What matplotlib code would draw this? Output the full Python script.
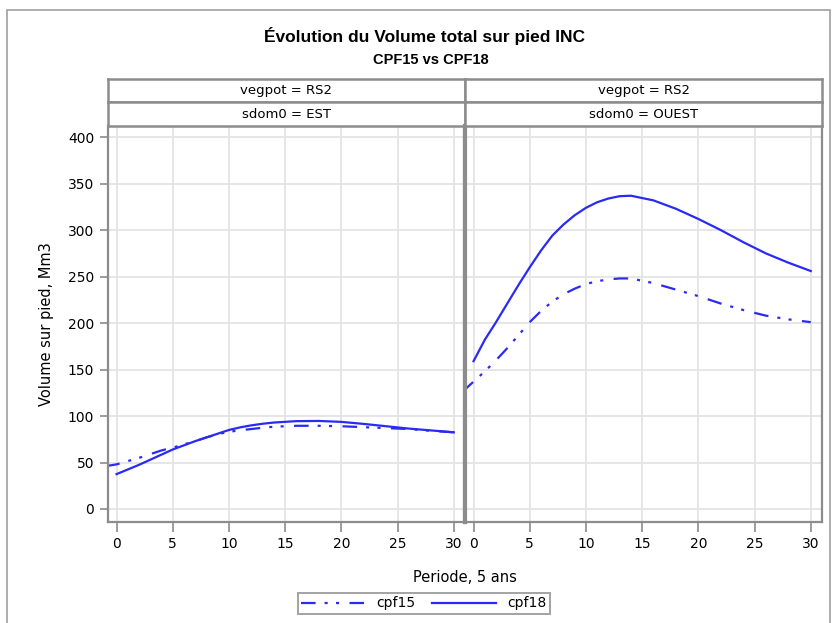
import matplotlib
matplotlib.use('Agg')
from matplotlib import pyplot as plt
from matplotlib.patches import Rectangle

# periods (5 years each)
x18 = [0, 1, 2, 3, 4, 5, 6, 7, 8, 9, 10, 11, 12, 13, 14, 16, 18, 20, 22, 24, 26, 28, 30]
x15 = [-1, 0, 1, 2, 3, 4, 5, 6, 7, 8, 9, 10, 11, 12, 13, 14, 16, 18, 20, 22, 24, 26, 28, 30]

# sdom0 = EST
est_cpf18 = [37.5, 42.5, 47.5, 53, 58.5, 64, 68.5, 73, 77, 81, 85, 87.8,
             90, 91.7, 93, 94.5, 94.7, 93.7, 91.5, 89, 86.5, 84.5, 82.5]
est_cpf15 = [46, 48, 51.5, 55, 59, 63, 66, 69.5, 73, 77, 80.5, 83, 84.7,
             86, 87.4, 88.5, 89.5, 89.5, 89, 88, 87, 86, 84, 82.5]

# sdom0 = OUEST
ouest_cpf18 = [159, 182, 201, 221, 241, 260, 278, 294, 306, 316, 324, 330,
               334, 336.5, 337, 332, 323, 312, 300, 287, 275, 265, 256]
ouest_cpf15 = [126, 137, 148, 160, 173, 187, 201, 213, 223, 231, 237, 242,
               245, 247, 248, 248, 243, 236, 229, 221, 214, 208, 204, 201]

panels = ['EST', 'OUEST']
xticks = [0, 5, 10, 15, 20, 25, 30]
yticks = [0, 50, 100, 150, 200, 250, 300, 350, 400]

blue = '#2a2af5'
grey = '#8c8c8c'
dash15 = (0, (10.5, 6.5, 2.2, 6.0, 2.2, 7.5))

W, H = 832, 623
fig = plt.figure(figsize=(W / 100, H / 100), dpi=100)
plt.rcParams['lines.scale_dashes'] = False

def fx(px):
    return px / W

def fy(py):
    return 1 - py / H

# outer frame
fig.patches.append(Rectangle((fx(7), fy(640)), fx(823), (640 - 10) / H,
                             transform=fig.transFigure, fill=False,
                             edgecolor='#a0a0a0', lw=1.2, clip_on=False))

fig.text(fx(424), fy(36), 'Évolution du Volume total sur pied INC',
         ha='center', va='center', fontsize=12.5, fontweight='bold',
         family='Liberation Sans')
fig.text(fx(431), fy(60), 'CPF15 vs CPF18', ha='center', va='center',
         fontsize=10.5, fontweight='bold', family='Liberation Sans')

lefts = [108, 465]
pw = 357
top, bottom = 126, 522
data = {'EST': (est_cpf15, est_cpf18), 'OUEST': (ouest_cpf15, ouest_cpf18)}

axes = []
for i, dom in enumerate(panels):
    l = lefts[i]
    ax = fig.add_axes([fx(l), fy(bottom), pw / W, (bottom - top) / H])
    axes.append(ax)
    c15, c18 = data[dom]
    ax.plot(x15, c15, color=blue, lw=1.6, ls=dash15, label='cpf15')
    ax.plot(x18, c18, color=blue, lw=1.6, label='cpf18')
    ax.set_xlim(-0.76, 31.0)
    ax.set_ylim(-14, 412)
    ax.set_xticks(xticks)
    ax.set_yticks(yticks)
    ax.grid(True, color='#e4e4e4', lw=1.3)
    ax.set_axisbelow(True)
    for s in ax.spines.values():
        s.set_color(grey)
        s.set_linewidth(1.6)
    ax.spines['top'].set_visible(False)
    ax.tick_params(axis='x', length=7, width=1.2, color=grey, labelsize=10,
                   pad=4)
    ax.tick_params(axis='y', length=6, width=1.2, color=grey, labelsize=10,
                   pad=4)
    if i == 0:
        ax.spines['right'].set_linewidth(3)
    else:
        ax.spines['left'].set_linewidth(3)
        ax.tick_params(axis='y', left=False, labelleft=False)

    # strips
    for j, (txt, y0, y1) in enumerate([('vegpot = RS2', 79, 102),
                                       ('sdom0 = ' + dom, 102, 126)]):
        sa = fig.add_axes([fx(l), fy(y1), pw / W, (y1 - y0) / H])
        sa.set_xticks([])
        sa.set_yticks([])
        for s in sa.spines.values():
            s.set_color(grey)
            s.set_linewidth(1.8)
        sa.text(0.5, 0.5, txt, ha='center', va='center', fontsize=9.5,
                transform=sa.transAxes)

axes[0].set_ylabel('Volume sur pied, Mm3', fontsize=10.5, labelpad=10)
fig.text(fx(465), fy(577), 'Periode, 5 ans', ha='center', va='center',
         fontsize=10.5)

handles, labels = axes[0].get_legend_handles_labels()
leg = fig.legend(handles, labels, loc='center', ncol=2,
                 bbox_to_anchor=(fx(424), fy(603.5)), fontsize=10,
                 frameon=True, fancybox=False, handlelength=4.6,
                 borderpad=0.25, columnspacing=1.2, handletextpad=0.8)
leg.get_frame().set_edgecolor(grey)
leg.get_frame().set_linewidth(1.4)

fig.savefig('out.png', dpi=100)
